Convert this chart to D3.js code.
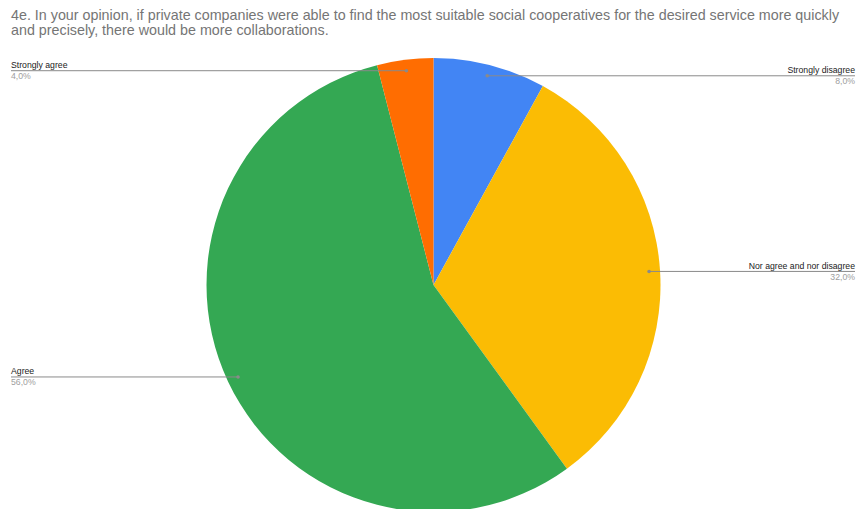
<!DOCTYPE html>
<html>
<head>
<meta charset="utf-8">
<script src="https://cdn.jsdelivr.net/npm/d3@7"></script>
<style>
  html, body { margin: 0; padding: 0; background: #fff; }
  svg { display: block; font-family: "Liberation Sans", Arial, sans-serif; }
</style>
</head>
<body>
<svg id="chart" width="857" height="509"></svg>
<script>
// Survey answers, in clockwise order starting from 12 o'clock
const categories = ["Strongly disagree", "Nor agree and nor disagree", "Agree", "Strongly agree"];
const values = [8, 32, 56, 4];
const colors = ["#4285F4", "#FBBC04", "#34A853", "#FF6D01"];
const valueLabels = ["8,0%", "32,0%", "56,0%", "4,0%"];
const titleLines = [
  "4e. In your opinion, if private companies were able to find the most suitable social cooperatives for the desired service more quickly",
  "and precisely, there would be more collaborations."
];

const W = 857, H = 509;
const cx = 433.5, cy = 285, R = 227;
const svg = d3.select("#chart");

// Title
svg.append("text")
  .attr("x", 11).attr("y", 20)
  .attr("fill", "#757575")
  .style("font-size", "14.3px")
  .selectAll("tspan").data(titleLines).join("tspan")
  .attr("x", 11)
  .attr("dy", (d, i) => i === 0 ? 0 : 15)
  .text(d => d);

const data = categories.map((c, i) => ({ name: c, value: values[i], color: colors[i], label: valueLabels[i] }));

const pie = d3.pie().value(d => d.value).sort(null);
const arcs = pie(data);
const arc = d3.arc().innerRadius(0).outerRadius(R);

const g = svg.append("g").attr("transform", `translate(${cx},${cy})`);
g.selectAll("path").data(arcs).join("path")
  .attr("d", arc)
  .attr("fill", d => d.data.color);

// Leader lines: from a point just inside the rim, horizontally to the chart edge
const anchorR = 216;
const leftEdge = 11, rightEdge = 855;
const layer = svg.append("g");

arcs.forEach(a => {
  const mid = (a.startAngle + a.endAngle) / 2;
  const px = cx + anchorR * Math.sin(mid);
  const py = cy - anchorR * Math.cos(mid);
  const right = Math.sin(mid) > 0;
  const ex = right ? rightEdge : leftEdge;

  layer.append("line")
    .attr("x1", px).attr("y1", py)
    .attr("x2", ex).attr("y2", py)
    .attr("stroke", "#8a8a8a").attr("stroke-width", 1);
  layer.append("circle")
    .attr("cx", px).attr("cy", py).attr("r", 1.8)
    .attr("fill", "#8a8a8a");

  layer.append("text")
    .attr("x", ex).attr("y", py - 2.5)
    .attr("text-anchor", right ? "end" : "start")
    .attr("fill", "#222")
    .style("font-size", "8.7px")
    .text(a.data.name);
  layer.append("text")
    .attr("x", ex).attr("y", py + 8.2)
    .attr("text-anchor", right ? "end" : "start")
    .attr("fill", "#9e9e9e")
    .style("font-size", "8.7px")
    .text(a.data.label);
});
</script>
</body>
</html>
